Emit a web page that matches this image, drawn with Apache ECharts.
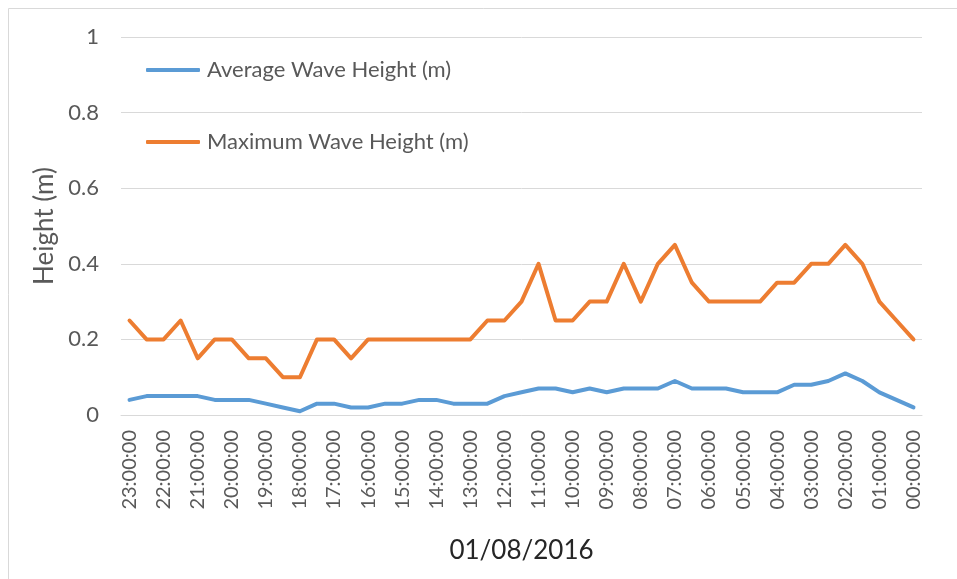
<!DOCTYPE html>
<html>
<head>
<meta charset="utf-8">
<script src="https://cdn.jsdelivr.net/npm/echarts@6/dist/echarts.min.js"></script>
<style>
  html, body { margin: 0; padding: 0; background: #fff; }
  #chart { width: 957px; height: 579px; }
</style>
</head>
<body>
<div id="chart"></div>
<script>
// half-hourly readings, 01/08/2016, plotted newest first
const times = [
  '23:00:00', '22:30:00', '22:00:00', '21:30:00', '21:00:00', '20:30:00',
  '20:00:00', '19:30:00', '19:00:00', '18:30:00', '18:00:00', '17:30:00',
  '17:00:00', '16:30:00', '16:00:00', '15:30:00', '15:00:00', '14:30:00',
  '14:00:00', '13:30:00', '13:00:00', '12:30:00', '12:00:00', '11:30:00',
  '11:00:00', '10:30:00', '10:00:00', '09:30:00', '09:00:00', '08:30:00',
  '08:00:00', '07:30:00', '07:00:00', '06:30:00', '06:00:00', '05:30:00',
  '05:00:00', '04:30:00', '04:00:00', '03:30:00', '03:00:00', '02:30:00',
  '02:00:00', '01:30:00', '01:00:00', '00:30:00', '00:00:00'
]
const avgHeight = [
  0.04, 0.05, 0.05, 0.05, 0.05, 0.04, 0.04, 0.04, 0.03, 0.02, 0.01, 0.03,
  0.03, 0.02, 0.02, 0.03, 0.03, 0.04, 0.04, 0.03, 0.03, 0.03, 0.05, 0.06,
  0.07, 0.07, 0.06, 0.07, 0.06, 0.07, 0.07, 0.07, 0.09, 0.07, 0.07, 0.07,
  0.06, 0.06, 0.06, 0.08, 0.08, 0.09, 0.11, 0.09, 0.06, 0.04, 0.02
]
const maxHeight = [
  0.25, 0.2, 0.2, 0.25, 0.15, 0.2, 0.2, 0.15, 0.15, 0.1, 0.1, 0.2,
  0.2, 0.15, 0.2, 0.2, 0.2, 0.2, 0.2, 0.2, 0.2, 0.25, 0.25, 0.3,
  0.4, 0.25, 0.25, 0.3, 0.3, 0.4, 0.3, 0.4, 0.45, 0.35, 0.3, 0.3,
  0.3, 0.3, 0.35, 0.35, 0.4, 0.4, 0.45, 0.4, 0.3, 0.25, 0.2
]
const yTicks = { min: 0, max: 1, interval: 0.2 }

const font = 'Lato, "Open Sans", sans-serif'
const chart = echarts.init(document.getElementById('chart'))

chart.setOption({
  animation: false,
  textStyle: { fontFamily: font },
  graphic: [{
    type: 'rect',
    shape: { x: 8.5, y: 8.5, width: 1000, height: 1000 },
    style: { fill: 'none', stroke: '#d9d9d9', lineWidth: 1 },
    silent: true,
  }],
  grid: {
    left: 121,
    right: 35,
    top: 37,
    bottom: 164,
  },
  legend: {
    orient: 'vertical',
    left: 141,
    top: 54,
    itemGap: 50,
    itemWidth: 54,
    itemHeight: 4,
    icon: 'roundRect',
    textStyle: { color: '#595959', fontSize: 22, fontFamily: font, padding: [0, 0, 0, 2] },
    data: ['Average Wave Height (m)', 'Maximum Wave Height (m)'],
  },
  xAxis: {
    type: 'category',
    data: times,
    boundaryGap: true,
    name: '01/08/2016',
    nameLocation: 'middle',
    nameGap: 123,
    nameTextStyle: { color: '#262626', fontSize: 26, fontFamily: font },
    axisLine: { show: true, lineStyle: { color: '#d9d9d9', width: 1 } },
    axisTick: { show: false },
    axisLabel: {
      interval: 1,
      rotate: 90,
      margin: 15,
      color: '#595959',
      fontSize: 20,
      fontFamily: font,
    },
    splitLine: { show: false },
  },
  yAxis: {
    type: 'value',
    min: yTicks.min,
    max: yTicks.max,
    interval: yTicks.interval,
    name: 'Height (m)',
    nameLocation: 'middle',
    nameGap: 61,
    nameTextStyle: { color: '#595959', fontSize: 26, fontFamily: font },
    axisLine: { show: false },
    axisTick: { show: false },
    axisLabel: {
      margin: 22,
      color: '#595959',
      fontSize: 22,
      fontFamily: font,
    },
    splitLine: { lineStyle: { color: '#d9d9d9', width: 1 } },
  },
  series: [
    {
      name: 'Average Wave Height (m)',
      type: 'line',
      data: avgHeight,
      showSymbol: false,
      symbol: 'none',
      lineStyle: { color: '#5b9bd5', width: 4, join: 'round', cap: 'round' },
      itemStyle: { color: '#5b9bd5' },
    },
    {
      name: 'Maximum Wave Height (m)',
      type: 'line',
      data: maxHeight,
      showSymbol: false,
      symbol: 'none',
      lineStyle: { color: '#ed7d31', width: 4, join: 'round', cap: 'round' },
      itemStyle: { color: '#ed7d31' },
    },
  ],
})
</script>
</body>
</html>
